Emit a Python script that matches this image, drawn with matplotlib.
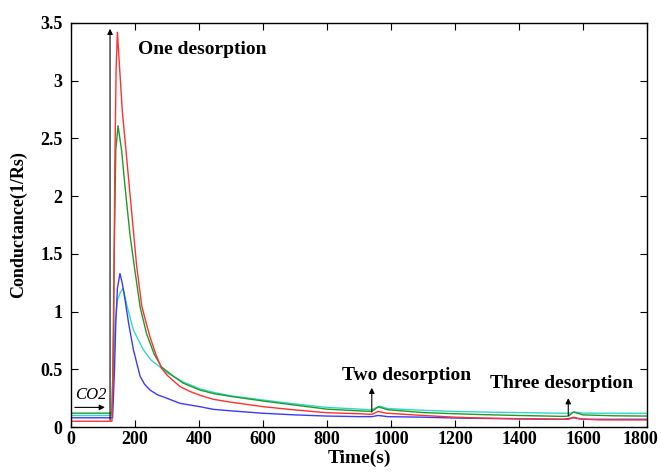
import numpy as np
import matplotlib
matplotlib.use("Agg")
from matplotlib import pyplot as plt
from matplotlib.transforms import ScaledTranslation

# data (time in s, conductance in 1/Rs)
red_t = [0, 128, 133, 137, 141, 145, 160, 175, 190, 205, 221, 235, 247, 265, 283, 300, 320, 341,
         370, 403, 445, 500, 601, 700, 799, 900, 940, 960, 985, 1100, 1200, 1278, 1400, 1539,
         1555, 1570, 1590, 1650, 1800]
red_v = [0.05, 0.05, 0.8, 2.26, 3.1, 3.42, 2.75, 2.3, 1.85, 1.4, 1.05, 0.9, 0.78, 0.63, 0.51, 0.45,
         0.40, 0.35, 0.31, 0.275, 0.24, 0.215, 0.176, 0.148, 0.124, 0.115, 0.11, 0.135, 0.12, 0.1,
         0.085, 0.078, 0.072, 0.067, 0.067, 0.085, 0.07, 0.062, 0.061]

green_t = [0, 128, 131, 135, 140, 147, 158, 170, 185, 200, 216, 236, 260, 283, 320, 351, 403, 445,
           500, 601, 700, 799, 900, 940, 960, 990, 1100, 1200, 1278, 1400, 1539, 1555, 1570, 1600,
           1700, 1800]
green_v = [0.12, 0.12, 0.5, 1.5, 2.4, 2.61, 2.40, 2.05, 1.65, 1.35, 1.04, 0.81, 0.63, 0.52, 0.44,
           0.38, 0.32, 0.29, 0.265, 0.225, 0.19, 0.155, 0.14, 0.135, 0.175, 0.15, 0.125, 0.115,
           0.108, 0.1, 0.092, 0.095, 0.13, 0.105, 0.097, 0.095]

cyan_t = [0, 128, 133, 138, 145, 155, 163, 175, 195, 226, 250, 278, 300, 351, 403, 445, 500, 601,
          700, 799, 900, 940, 965, 990, 1100, 1200, 1278, 1400, 1539, 1560, 1575, 1600, 1800]
cyan_v = [0.10, 0.10, 0.5, 0.9, 1.1, 1.17, 1.20, 1.05, 0.84, 0.67, 0.58, 0.52, 0.47, 0.39, 0.33,
          0.30, 0.27, 0.234, 0.2, 0.17, 0.155, 0.15, 0.18, 0.16, 0.145, 0.135, 0.13, 0.125, 0.119,
          0.12, 0.13, 0.12, 0.119]

blue_t = [0, 130, 136, 140, 145, 153, 160, 169, 180, 195, 216, 230, 247, 270, 299, 341, 403, 445,
          500, 601, 700, 799, 900, 940, 960, 990, 1100, 1200, 1278, 1400, 1539, 1570, 1600, 1800]
blue_v = [0.08, 0.08, 0.5, 0.9, 1.2, 1.33, 1.25, 1.10, 0.9, 0.67, 0.44, 0.37, 0.32, 0.28, 0.25,
          0.205, 0.176, 0.153, 0.14, 0.119, 0.105, 0.095, 0.09, 0.09, 0.1, 0.09, 0.085, 0.078,
          0.075, 0.07, 0.067, 0.08, 0.067, 0.067]

x_ticks = list(range(0, 1801, 200))
y_ticks = [0, 0.5, 1, 1.5, 2, 2.5, 3, 3.5]
y_labels = ["0", "0.5", "1", "1.5", "2", "2.5", "3", "3.5"]

plt.rcParams["font.family"] = ["Liberation Serif", "DejaVu Serif"]
plt.rcParams["font.weight"] = "bold"

fig = plt.figure(figsize=(6.61, 4.72), dpi=100)
ax = fig.add_axes([0.1074, 0.0953, 0.8714, 0.856])

ax.plot(cyan_t, cyan_v, color="#33d6c8", lw=1.0)
ax.plot(green_t, green_v, color="#1f9a2a", lw=1.0)
ax.plot(blue_t, blue_v, color="#3a3aff", lw=1.0)
ax.plot(red_t, red_v, color="#ff3030", lw=1.0)

arrow = dict(arrowstyle="-|>", color="black", lw=0.8, mutation_scale=8, shrinkA=0, shrinkB=0)
ax.annotate("", xy=(122, 3.45), xytext=(122, 0.06), arrowprops=arrow)
ax.annotate("", xy=(106, 0.17), xytext=(12, 0.17), arrowprops=arrow)
ax.annotate("", xy=(940, 0.34), xytext=(940, 0.13), arrowprops=arrow)
ax.annotate("", xy=(1554, 0.25), xytext=(1554, 0.10), arrowprops=arrow)

ax.text(209, 3.27, "One desorption", fontsize=14, fontweight="bold", va="center")
ax.text(846, 0.45, "Two desorption", fontsize=14, fontweight="bold", va="center")
ax.text(1309, 0.38, "Three desorption", fontsize=14, fontweight="bold", va="center")
ax.text(12, 0.28, "CO2", fontsize=12, fontstyle="italic", fontweight="normal", va="center")

ax.set_xlim(0, 1800)
ax.set_ylim(0, 3.5)
ax.set_xticks(x_ticks)
ax.set_yticks(y_ticks)
ax.set_yticklabels(y_labels)
ax.tick_params(direction="in", top=True, right=True, labelsize=13, length=5, width=0.8)
ax.tick_params(axis="y", pad=6)
ax.tick_params(axis="x", pad=3)
for lab in ax.get_xticklabels() + ax.get_yticklabels():
    lab.set_fontweight("bold")
# last x label sits against the right edge, nudge it in a little
last = ax.get_xticklabels()[-1]
last.set_transform(last.get_transform() + ScaledTranslation(-7 / 100, 0, fig.dpi_scale_trans))
for s in ax.spines.values():
    s.set_linewidth(1.0)

ax.set_xlabel("Time(s)", fontsize=14, fontweight="bold")
ax.set_ylabel("Conductance(1/Rs)", fontsize=13, fontweight="bold")
ax.xaxis.set_label_coords(0.5, -0.055)
ax.yaxis.set_label_coords(-0.076, 0.5)

fig.savefig("out.png", dpi=100)
